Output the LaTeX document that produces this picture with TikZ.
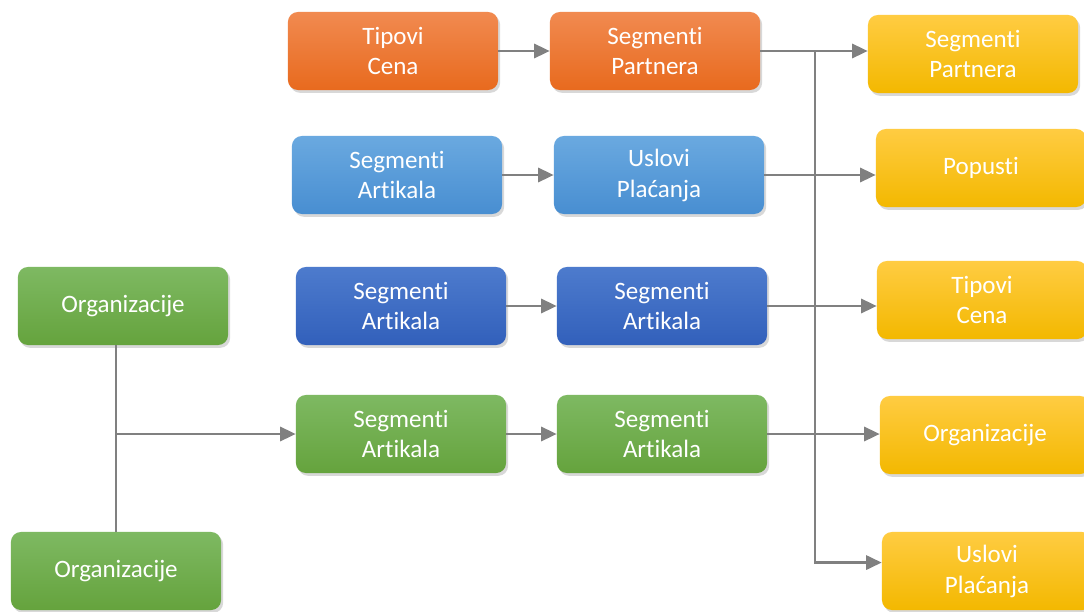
\documentclass[tikz,border=0pt]{standalone}
\usepackage{fontspec}
\setmainfont[Ligatures=NoCommon]{Carlito}
\usepackage{tikz}
\usetikzlibrary{shadows}
\usetikzlibrary{arrows.meta}
\usetikzlibrary{positioning}
\usepackage{color}
\definecolor{orangetop}{RGB}{241, 138, 80}
\definecolor{orangebot}{RGB}{232, 106, 30}
\definecolor{skytop}{RGB}{106, 169, 224}
\definecolor{skybot}{RGB}{72, 142, 209}
\definecolor{navytop}{RGB}{77, 123, 205}
\definecolor{navybot}{RGB}{50, 96, 187}
\definecolor{leaftop}{RGB}{126, 185, 98}
\definecolor{leafbot}{RGB}{101, 163, 61}
\definecolor{sunflowertop}{RGB}{255, 204, 66}
\definecolor{sunflowerbot}{RGB}{243, 184, 0}
\definecolor{wire}{RGB}{128, 128, 128}

\tikzset{
    card/.style={rounded corners=7pt, minimum width=5.25cm, minimum height=1.95cm,
                 align=center, text=white, font=\fontsize{17.8}{22}\selectfont,
                 drop shadow={shadow xshift=1.5pt, shadow yshift=-2pt, opacity=0.3}},
    orangecard/.style={card, top color=orangetop, bottom color=orangebot},
    skycard/.style={card, top color=skytop, bottom color=skybot},
    navycard/.style={card, top color=navytop, bottom color=navybot},
    leafcard/.style={card, top color=leaftop, bottom color=leafbot},
    suncard/.style={card, top color=sunflowertop, bottom color=sunflowerbot},
    link/.style={draw=wire, line width=1.9pt},
    feed/.style={link, -{Triangle[length=11pt, width=10pt]}}
}

\begin{document}
\begin{tikzpicture}[x=0.025cm, y=-0.025cm]
            % Frame
            \fill[white] (0,0) rectangle (1084,611);
            \useasboundingbox (0,0) rectangle (1084,611);
            % Source column
            \node[orangecard] (tc)   at (393, 51)  {Tipovi\\Cena};
            \node[skycard]    (sa1)  at (397, 175) {Segmenti\\Artikala};
            \node[navycard]   (sa2)  at (401, 306) {Segmenti\\Artikala};
            \node[leafcard]   (sa3)  at (401, 434) {Segmenti\\Artikala};
            % Middle column
            \node[orangecard] (sp)   at (655, 51)  {Segmenti\\Partnera};
            \node[skycard]    (up)   at (659, 175) {Uslovi\\Plaćanja};
            \node[navycard]   (sa4)  at (662, 306) {Segmenti\\Artikala};
            \node[leafcard]   (sa5)  at (662, 434) {Segmenti\\Artikala};
            % Organizations
            \node[leafcard]   (org1) at (123, 306) {Organizacije};
            \node[leafcard]   (org2) at (116, 571) {Organizacije};
            % Target column
            \node[suncard]    (ysp)  at (973, 54)  {Segmenti\\Partnera};
            \node[suncard]    (ypo)  at (981, 168) {Popusti};
            \node[suncard]    (ytc)  at (982, 300) {Tipovi\\Cena};
            \node[suncard]    (yor)  at (985, 435) {Organizacije};
            \node[suncard]    (yup)  at (987, 571) {Uslovi\\Plaćanja};
            % Row arrows
            \draw[feed] (tc.east)  -- (sp.west);
            \draw[feed] (sa1.east) -- (up.west);
            \draw[feed] (sa2.east) -- (sa4.west);
            \draw[feed] (sa3.east) -- (sa5.west);
            % Bus to targets
            \coordinate (bus) at (815, 51);
            \draw[feed] (sp.east)  -- (sp.east -| ysp.west);
            \draw[feed] (up.east)  -- (up.east -| ypo.west);
            \draw[feed] (sa4.east) -- (sa4.east -| ytc.west);
            \draw[feed] (sa5.east) -- (sa5.east -| yor.west);
            \draw[feed] (bus) |- ([yshift=6]yup.west);
            % Organizations link
            \coordinate (jn) at (org2.north |- sa3.west);
            \draw[link] (org2.north) -- (org2.north |- org1.south);
            \draw[feed] (jn) -- (sa3.west);
\end{tikzpicture}
\end{document}
